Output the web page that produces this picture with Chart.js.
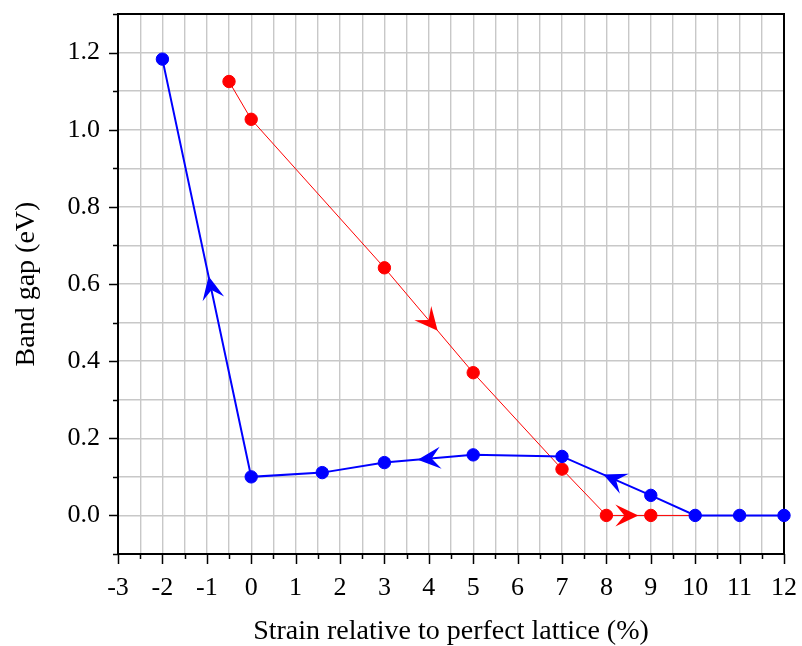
<!DOCTYPE html>
<html>
<head>
<meta charset="utf-8">
<script src="https://cdn.jsdelivr.net/npm/chart.js@4.4.1/dist/chart.umd.min.js"></script>
<style>
  html, body { margin: 0; padding: 0; background: #fff; }
  #wrap { width: 802px; height: 646px; }
</style>
</head>
<body>
<div id="wrap"><canvas id="gap-chart"></canvas></div>
<script>
// red path (tension increasing)
const redStrain = [-0.5, 0, 3, 5, 7, 8, 9, 10];
const redGap = [1.125, 1.027, 0.642, 0.37, 0.12, 0, 0, 0];
// blue path (coming back)
const blueStrain = [12, 11, 10, 9, 7, 5, 3, 1.6, 0, -2];
const blueGap = [0, 0, 0, 0.052, 0.153, 0.157, 0.137, 0.111, 0.1, 1.183];
// arrows: [segment index, fraction along segment]
const redArrows = [[2, 0.6], [5, 0.72]];
const blueArrows = [[3, 0.535], [5, 0.625], [8, 0.48]];

const RED = "#ff0000";
const BLUE = "#0000ff";
const FONT = "'Liberation Serif', 'Times New Roman', serif";

function toPoints(xs, ys) {
  return xs.map((x, i) => ({ x: x, y: ys[i] }));
}

function isMajorX(v) {
  return Math.abs(v - Math.round(v)) < 1e-6;
}
function isMajorY(v) {
  return Math.round(v * 10) % 2 === 0;
}

// frame + outside tick marks
const framePlugin = {
  id: "frame",
  beforeDatasetsDraw(chart) {
    const ctx = chart.ctx;
    const a = chart.chartArea;
    const xs = chart.scales.x;
    const ys = chart.scales.y;
    ctx.save();
    ctx.strokeStyle = "#000";
    ctx.lineWidth = 2;
    ctx.strokeRect(a.left, a.top, a.right - a.left, a.bottom - a.top);
    ctx.lineWidth = 1.5;
    ctx.beginPath();
    xs.ticks.forEach((t) => {
      const px = Math.round(xs.getPixelForValue(t.value)) + 0.5;
      const len = isMajorX(t.value) ? 10 : 5;
      ctx.moveTo(px, a.bottom);
      ctx.lineTo(px, a.bottom + len);
    });
    ys.ticks.forEach((t) => {
      const py = Math.round(ys.getPixelForValue(t.value)) + 0.5;
      const len = isMajorY(t.value) ? 9 : 5;
      ctx.moveTo(a.left, py);
      ctx.lineTo(a.left - len, py);
    });
    ctx.stroke();
    ctx.restore();
  },
  afterDatasetsDraw(chart) {
    const ctx = chart.ctx;
    const xs = chart.scales.x;
    const ys = chart.scales.y;
    const drawSet = (sx, sy, list, color) => {
      list.forEach(([i, f]) => {
        const x0 = xs.getPixelForValue(sx[i]), y0 = ys.getPixelForValue(sy[i]);
        const x1 = xs.getPixelForValue(sx[i + 1]), y1 = ys.getPixelForValue(sy[i + 1]);
        const tx = x0 + (x1 - x0) * f, ty = y0 + (y1 - y0) * f;
        const ang = Math.atan2(y1 - y0, x1 - x0);
        ctx.save();
        ctx.translate(tx, ty);
        ctx.rotate(ang);
        ctx.fillStyle = color;
        ctx.beginPath();
        ctx.moveTo(0, 0);
        ctx.lineTo(-23, -11);
        ctx.lineTo(-14, 0);
        ctx.lineTo(-23, 11);
        ctx.closePath();
        ctx.fill();
        ctx.restore();
      });
    };
    drawSet(redStrain, redGap, redArrows, RED);
    drawSet(blueStrain, blueGap, blueArrows, BLUE);
  },
};

const data = {
  datasets: [
    {
      label: "blue",
      data: toPoints(blueStrain, blueGap),
      borderColor: BLUE,
      backgroundColor: BLUE,
      borderWidth: 2,
      pointRadius: 6.2,
      pointBorderWidth: 1,
      pointHoverRadius: 6.2,
      clip: false,
    },
    {
      label: "red",
      data: toPoints(redStrain, redGap),
      borderColor: RED,
      backgroundColor: RED,
      borderWidth: 1,
      pointRadius: redStrain.map((x, i) => (i === redStrain.length - 1 ? 0 : 6.2)),
      pointBorderWidth: 1,
      clip: false,
    },
  ],
};

const config = {
  type: "line",
  data: data,
  options: {
    responsive: true,
    maintainAspectRatio: false,
    animation: false,
    layout: { padding: { top: 14, right: 18, left: 0, bottom: 0 } },
    plugins: {
      legend: { display: false },
      tooltip: { enabled: false },
    },
    scales: {
      x: {
        type: "linear",
        min: -3,
        max: 12,
        afterFit: (s) => {
          s.height = 92;
          s.paddingLeft = 0;
          s.paddingRight = 0;
        },
        border: { display: false },
        grid: { color: "#c8c8c8", lineWidth: 1.4, drawTicks: false },
        ticks: {
          stepSize: 0.5,
          autoSkip: false,
          maxRotation: 0,
          padding: 19,
          color: "#000",
          font: { family: FONT, size: 26 },
          callback: (v) => (isMajorX(v) ? String(Math.round(v)) : ""),
        },
        title: {
          display: true,
          text: "Strain relative to perfect lattice (%)",
          color: "#000",
          font: { family: FONT, size: 28, lineHeight: 1 },
          padding: { top: 0, bottom: 0 },
        },
      },
      y: {
        type: "linear",
        min: -0.1,
        max: 1.3,
        afterFit: (s) => {
          s.width = 118;
          s.paddingTop = 0;
          s.paddingBottom = 0;
        },
        border: { display: false },
        grid: { color: "#c8c8c8", lineWidth: 1.4, drawTicks: false },
        ticks: {
          stepSize: 0.1,
          autoSkip: false,
          padding: 18,
          color: "#000",
          font: { family: FONT, size: 26 },
          callback: (v) => (isMajorY(v) ? v.toFixed(1) : ""),
        },
        title: {
          display: true,
          text: "Band gap (eV)",
          color: "#000",
          font: { family: FONT, size: 28, lineHeight: 1 },
          padding: { top: 13, bottom: 0 },
        },
      },
    },
  },
  plugins: [framePlugin],
};

new Chart(document.getElementById("gap-chart"), config);
</script>
</body>
</html>
